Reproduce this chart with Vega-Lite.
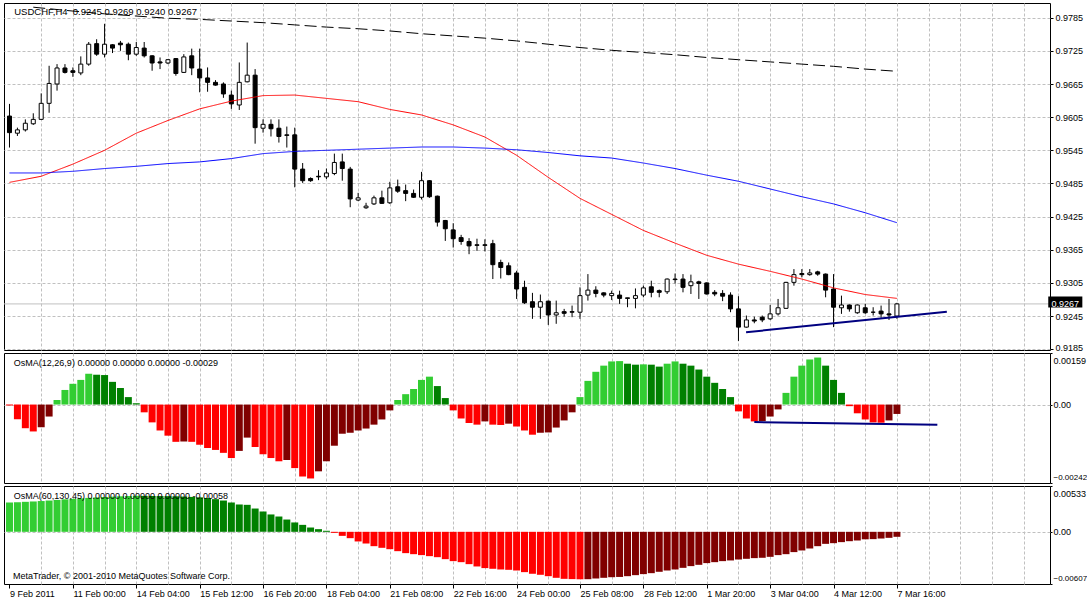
{
"$schema": "https://vega.github.io/schema/vega-lite/v6.json",
"background": "white",
"padding": {"left": 3, "top": 2, "right": 0, "bottom": 0},
"spacing": 3,
"bounds": "flush",
"config": {
  "view": {"stroke": "black", "strokeWidth": 1},
  "axis": {"labelFont": "Liberation Sans", "labelFontSize": 9, "labelColor": "black", "gridColor": "#c0c0c0", "gridDash": [3, 2], "domain": false, "tickColor": "black", "labelOverlap": false},
  "text": {"font": "Liberation Sans", "fontSize": 9}
},
"datasets": {
  "candles": [
    {"i":0,"o":0.9607,"h":0.9629,"l":0.9550,"c":0.9577},
    {"i":1,"o":0.9576,"h":0.9586,"l":0.9571,"c":0.9582},
    {"i":2,"o":0.9582,"h":0.9601,"l":0.9579,"c":0.9594},
    {"i":3,"o":0.9593,"h":0.9612,"l":0.9591,"c":0.9601},
    {"i":4,"o":0.9601,"h":0.9648,"l":0.9600,"c":0.9630},
    {"i":5,"o":0.9630,"h":0.9698,"l":0.9613,"c":0.9666},
    {"i":6,"o":0.9665,"h":0.9701,"l":0.9653,"c":0.9694},
    {"i":7,"o":0.9694,"h":0.9701,"l":0.9684,"c":0.9686},
    {"i":8,"o":0.9689,"h":0.9695,"l":0.9678,"c":0.9686},
    {"i":9,"o":0.9685,"h":0.9715,"l":0.9681,"c":0.9701},
    {"i":10,"o":0.9701,"h":0.9741,"l":0.9698,"c":0.9737},
    {"i":11,"o":0.9738,"h":0.9746,"l":0.9716,"c":0.9719},
    {"i":12,"o":0.9719,"h":0.9774,"l":0.9713,"c":0.9737},
    {"i":13,"o":0.9736,"h":0.9737,"l":0.9721,"c":0.9730},
    {"i":14,"o":0.9739,"h":0.9743,"l":0.9725,"c":0.9736},
    {"i":15,"o":0.9737,"h":0.9740,"l":0.9708,"c":0.9719},
    {"i":16,"o":0.9719,"h":0.9741,"l":0.9716,"c":0.9731},
    {"i":17,"o":0.9730,"h":0.9741,"l":0.9713,"c":0.9716},
    {"i":18,"o":0.9716,"h":0.9717,"l":0.9689,"c":0.9703},
    {"i":19,"o":0.9705,"h":0.9713,"l":0.9692,"c":0.9703},
    {"i":20,"o":0.9703,"h":0.9710,"l":0.9701,"c":0.9709},
    {"i":21,"o":0.9711,"h":0.9712,"l":0.9680,"c":0.9684},
    {"i":22,"o":0.9686,"h":0.9719,"l":0.9685,"c":0.9714},
    {"i":23,"o":0.9716,"h":0.9729,"l":0.9681,"c":0.9694},
    {"i":24,"o":0.9692,"h":0.9729,"l":0.9650,"c":0.9676},
    {"i":25,"o":0.9676,"h":0.9695,"l":0.9651,"c":0.9668},
    {"i":26,"o":0.9668,"h":0.9672,"l":0.9662,"c":0.9663},
    {"i":27,"o":0.9665,"h":0.9668,"l":0.9640,"c":0.9647},
    {"i":28,"o":0.9645,"h":0.9653,"l":0.9620,"c":0.9629},
    {"i":29,"o":0.9627,"h":0.9704,"l":0.9618,"c":0.9668},
    {"i":30,"o":0.9669,"h":0.9740,"l":0.9668,"c":0.9681},
    {"i":31,"o":0.9681,"h":0.9692,"l":0.9557,"c":0.9586},
    {"i":32,"o":0.9585,"h":0.9601,"l":0.9577,"c":0.9592},
    {"i":33,"o":0.9592,"h":0.9601,"l":0.9570,"c":0.9584},
    {"i":34,"o":0.9585,"h":0.9601,"l":0.9559,"c":0.9570},
    {"i":35,"o":0.9573,"h":0.9588,"l":0.9550,"c":0.9572},
    {"i":36,"o":0.9573,"h":0.9586,"l":0.9478,"c":0.9511},
    {"i":37,"o":0.9511,"h":0.9522,"l":0.9486,"c":0.9490},
    {"i":38,"o":0.9494,"h":0.9496,"l":0.9488,"c":0.9490},
    {"i":39,"o":0.9498,"h":0.9509,"l":0.9491,"c":0.9497},
    {"i":40,"o":0.9497,"h":0.9512,"l":0.9493,"c":0.9504},
    {"i":41,"o":0.9503,"h":0.9539,"l":0.9500,"c":0.9523},
    {"i":42,"o":0.9524,"h":0.9539,"l":0.9490,"c":0.9512},
    {"i":43,"o":0.9511,"h":0.9515,"l":0.9442,"c":0.9457},
    {"i":44,"o":0.9455,"h":0.9468,"l":0.9453,"c":0.9459},
    {"i":45,"o":0.9441,"h":0.9450,"l":0.9439,"c":0.9444},
    {"i":46,"o":0.9448,"h":0.9463,"l":0.9446,"c":0.9459},
    {"i":47,"o":0.9459,"h":0.9472,"l":0.9448,"c":0.9449},
    {"i":48,"o":0.9450,"h":0.9488,"l":0.9448,"c":0.9477},
    {"i":49,"o":0.9479,"h":0.9492,"l":0.9468,"c":0.9471},
    {"i":50,"o":0.9472,"h":0.9483,"l":0.9453,"c":0.9467},
    {"i":51,"o":0.9467,"h":0.9474,"l":0.9459,"c":0.9460},
    {"i":52,"o":0.9460,"h":0.9506,"l":0.9456,"c":0.9490},
    {"i":53,"o":0.9490,"h":0.9491,"l":0.9459,"c":0.9461},
    {"i":54,"o":0.9462,"h":0.9463,"l":0.9407,"c":0.9415},
    {"i":55,"o":0.9418,"h":0.9419,"l":0.9381,"c":0.9403},
    {"i":56,"o":0.9401,"h":0.9413,"l":0.9369,"c":0.9385},
    {"i":57,"o":0.9387,"h":0.9392,"l":0.9374,"c":0.9380},
    {"i":58,"o":0.9380,"h":0.9386,"l":0.9357,"c":0.9372},
    {"i":59,"o":0.9374,"h":0.9385,"l":0.9363,"c":0.9373},
    {"i":60,"o":0.9374,"h":0.9384,"l":0.9362,"c":0.9373},
    {"i":61,"o":0.9376,"h":0.9383,"l":0.9312,"c":0.9338},
    {"i":62,"o":0.9342,"h":0.9347,"l":0.9313,"c":0.9333},
    {"i":63,"o":0.9336,"h":0.9342,"l":0.9319,"c":0.9320},
    {"i":64,"o":0.9323,"h":0.9327,"l":0.9276,"c":0.9294},
    {"i":65,"o":0.9297,"h":0.9309,"l":0.9267,"c":0.9269},
    {"i":66,"o":0.9271,"h":0.9287,"l":0.9240,"c":0.9261},
    {"i":67,"o":0.9261,"h":0.9284,"l":0.9240,"c":0.9271},
    {"i":68,"o":0.9272,"h":0.9273,"l":0.9229,"c":0.9247},
    {"i":69,"o":0.9247,"h":0.9273,"l":0.9231,"c":0.9251},
    {"i":70,"o":0.9253,"h":0.9258,"l":0.9244,"c":0.9250},
    {"i":71,"o":0.9253,"h":0.9264,"l":0.9243,"c":0.9252},
    {"i":72,"o":0.9252,"h":0.9297,"l":0.9240,"c":0.9282},
    {"i":73,"o":0.9283,"h":0.9321,"l":0.9273,"c":0.9292},
    {"i":74,"o":0.9292,"h":0.9299,"l":0.9279,"c":0.9286},
    {"i":75,"o":0.9287,"h":0.9288,"l":0.9279,"c":0.9283},
    {"i":76,"o":0.9282,"h":0.9291,"l":0.9274,"c":0.9286},
    {"i":77,"o":0.9283,"h":0.9291,"l":0.9267,"c":0.9277},
    {"i":78,"o":0.9278,"h":0.9278,"l":0.9261,"c":0.9277},
    {"i":79,"o":0.9277,"h":0.9295,"l":0.9259,"c":0.9282},
    {"i":80,"o":0.9283,"h":0.9300,"l":0.9279,"c":0.9296},
    {"i":81,"o":0.9298,"h":0.9309,"l":0.9279,"c":0.9288},
    {"i":82,"o":0.9291,"h":0.9293,"l":0.9279,"c":0.9288},
    {"i":83,"o":0.9289,"h":0.9313,"l":0.9285,"c":0.9312},
    {"i":84,"o":0.9312,"h":0.9322,"l":0.9304,"c":0.9311},
    {"i":85,"o":0.9312,"h":0.9321,"l":0.9288,"c":0.9297},
    {"i":86,"o":0.9300,"h":0.9320,"l":0.9285,"c":0.9307},
    {"i":87,"o":0.9307,"h":0.9309,"l":0.9276,"c":0.9304},
    {"i":88,"o":0.9305,"h":0.9306,"l":0.9284,"c":0.9285},
    {"i":89,"o":0.9288,"h":0.9292,"l":0.9281,"c":0.9285},
    {"i":90,"o":0.9286,"h":0.9292,"l":0.9272,"c":0.9281},
    {"i":91,"o":0.9283,"h":0.9288,"l":0.9252,"c":0.9258},
    {"i":92,"o":0.9258,"h":0.9281,"l":0.9200,"c":0.9225},
    {"i":93,"o":0.9225,"h":0.9246,"l":0.9224,"c":0.9238},
    {"i":94,"o":0.9238,"h":0.9244,"l":0.9232,"c":0.9236},
    {"i":95,"o":0.9243,"h":0.9246,"l":0.9234,"c":0.9238},
    {"i":96,"o":0.9240,"h":0.9265,"l":0.9238,"c":0.9249},
    {"i":97,"o":0.9249,"h":0.9276,"l":0.9246,"c":0.9260},
    {"i":98,"o":0.9259,"h":0.9307,"l":0.9258,"c":0.9306},
    {"i":99,"o":0.9306,"h":0.9330,"l":0.9300,"c":0.9320},
    {"i":100,"o":0.9322,"h":0.9330,"l":0.9315,"c":0.9320},
    {"i":101,"o":0.9320,"h":0.9330,"l":0.9318,"c":0.9323},
    {"i":102,"o":0.9325,"h":0.9327,"l":0.9318,"c":0.9321},
    {"i":103,"o":0.9321,"h":0.9322,"l":0.9279,"c":0.9292},
    {"i":104,"o":0.9294,"h":0.9321,"l":0.9225,"c":0.9261},
    {"i":105,"o":0.9260,"h":0.9282,"l":0.9249,"c":0.9265},
    {"i":106,"o":0.9265,"h":0.9266,"l":0.9253,"c":0.9258},
    {"i":107,"o":0.9251,"h":0.9266,"l":0.9249,"c":0.9265},
    {"i":108,"o":0.9260,"h":0.9267,"l":0.9249,"c":0.9251},
    {"i":109,"o":0.9252,"h":0.9261,"l":0.9246,"c":0.9252},
    {"i":110,"o":0.9254,"h":0.9264,"l":0.9242,"c":0.9249},
    {"i":111,"o":0.9249,"h":0.9276,"l":0.9238,"c":0.9247},
    {"i":112,"o":0.9245,"h":0.9269,"l":0.9240,"c":0.9267}
  ],
  "ma": [
    {"m":"k","i":3,"v":0.9804},{"m":"k","i":8,"v":0.9797},{"m":"k","i":12,"v":0.9792},{"m":"k","i":16,"v":0.9788},{"m":"k","i":20,"v":0.9784},{"m":"k","i":24,"v":0.9782},{"m":"k","i":28,"v":0.9779},{"m":"k","i":32,"v":0.9776},{"m":"k","i":36,"v":0.9772},{"m":"k","i":40,"v":0.9768},{"m":"k","i":44,"v":0.9765},{"m":"k","i":48,"v":0.9761},{"m":"k","i":52,"v":0.9756},{"m":"k","i":56,"v":0.9752},{"m":"k","i":60,"v":0.9748},{"m":"k","i":64,"v":0.9743},{"m":"k","i":68,"v":0.9737},{"m":"k","i":72,"v":0.9731},{"m":"k","i":76,"v":0.9726},{"m":"k","i":80,"v":0.9722},{"m":"k","i":84,"v":0.9718},{"m":"k","i":88,"v":0.9713},{"m":"k","i":92,"v":0.9709},{"m":"k","i":96,"v":0.9705},{"m":"k","i":100,"v":0.9701},{"m":"k","i":104,"v":0.9697},{"m":"k","i":108,"v":0.9692},{"m":"k","i":112,"v":0.9688},
    {"m":"r","i":0,"v":0.9487},{"m":"r","i":4,"v":0.9498},{"m":"r","i":8,"v":0.9520},{"m":"r","i":12,"v":0.9545},{"m":"r","i":16,"v":0.9576},{"m":"r","i":20,"v":0.9599},{"m":"r","i":24,"v":0.9620},{"m":"r","i":28,"v":0.9634},{"m":"r","i":32,"v":0.9644},{"m":"r","i":36,"v":0.9645},{"m":"r","i":40,"v":0.9639},{"m":"r","i":44,"v":0.9633},{"m":"r","i":48,"v":0.9619},{"m":"r","i":52,"v":0.9609},{"m":"r","i":56,"v":0.9591},{"m":"r","i":60,"v":0.9569},{"m":"r","i":64,"v":0.9536},{"m":"r","i":68,"v":0.9496},{"m":"r","i":72,"v":0.9458},{"m":"r","i":76,"v":0.9429},{"m":"r","i":80,"v":0.9400},{"m":"r","i":84,"v":0.9377},{"m":"r","i":88,"v":0.9355},{"m":"r","i":92,"v":0.9339},{"m":"r","i":96,"v":0.9326},{"m":"r","i":100,"v":0.9312},{"m":"r","i":104,"v":0.9296},{"m":"r","i":108,"v":0.9284},{"m":"r","i":112,"v":0.9277},
    {"m":"b","i":0,"v":0.9504},{"m":"b","i":4,"v":0.9504},{"m":"b","i":8,"v":0.9507},{"m":"b","i":12,"v":0.9512},{"m":"b","i":16,"v":0.9516},{"m":"b","i":20,"v":0.9521},{"m":"b","i":24,"v":0.9524},{"m":"b","i":28,"v":0.9530},{"m":"b","i":32,"v":0.9539},{"m":"b","i":36,"v":0.9543},{"m":"b","i":40,"v":0.9545},{"m":"b","i":44,"v":0.9547},{"m":"b","i":48,"v":0.9549},{"m":"b","i":52,"v":0.9551},{"m":"b","i":56,"v":0.9551},{"m":"b","i":60,"v":0.9549},{"m":"b","i":64,"v":0.9546},{"m":"b","i":68,"v":0.9541},{"m":"b","i":72,"v":0.9535},{"m":"b","i":76,"v":0.9531},{"m":"b","i":80,"v":0.9522},{"m":"b","i":84,"v":0.9512},{"m":"b","i":88,"v":0.9500},{"m":"b","i":92,"v":0.9489},{"m":"b","i":96,"v":0.9475},{"m":"b","i":100,"v":0.9461},{"m":"b","i":104,"v":0.9448},{"m":"b","i":108,"v":0.9432},{"m":"b","i":112,"v":0.9414}
  ],
  "trend": [
    {"p":"a","i":92.96,"v":0.92158},{"p":"a","i":118.3,"v":0.92527},
    {"p":"b","i":94,"v":-0.00054},{"p":"b","i":117.1,"v":-0.00062}
  ],
  "last": [{"p":0.9267,"t":"0.9267"}],
  "notes": [
    {"p":"a","t":"USDCHF,H4\u00a0 0.9245 0.9269 0.9240 0.9267"},
    {"p":"b","t":"OsMA(12,26,9) 0.00000 0.00000 0.00000 -0.00029"},
    {"p":"c","t":"OsMA(60,130,45) 0.00000 0.00000 0.00000 -0.00058"},
    {"p":"d","t":"MetaTrader, © 2001-2010 MetaQuotes Software Corp."}
  ],
  "osma1": [
    {"i":0,"v":-0.00003,"s":"r"},{"i":1,"v":-0.00045,"s":"r"},{"i":2,"v":-0.00073,"s":"r"},{"i":3,"v":-0.00083,"s":"r"},{"i":4,"v":-0.0007,"s":"R"},{"i":5,"v":-0.00037,"s":"R"},
    {"i":6,"v":0.00014,"s":"g"},{"i":7,"v":0.00045,"s":"g"},{"i":8,"v":0.00064,"s":"g"},{"i":9,"v":0.00076,"s":"g"},{"i":10,"v":0.00095,"s":"g"},
    {"i":11,"v":0.00092,"s":"G"},{"i":12,"v":0.00091,"s":"G"},{"i":13,"v":0.0007,"s":"G"},{"i":14,"v":0.00051,"s":"G"},{"i":15,"v":0.00023,"s":"G"},{"i":16,"v":0.00004,"s":"G"},
    {"i":17,"v":-0.00024,"s":"r"},{"i":18,"v":-0.00055,"s":"r"},{"i":19,"v":-0.0008,"s":"r"},{"i":20,"v":-0.00096,"s":"r"},{"i":21,"v":-0.00115,"s":"r"},{"i":22,"v":-0.00114,"s":"R"},
    {"i":23,"v":-0.00115,"s":"r"},{"i":24,"v":-0.00124,"s":"r"},{"i":25,"v":-0.00134,"s":"r"},{"i":26,"v":-0.0014,"s":"r"},{"i":27,"v":-0.00149,"s":"r"},{"i":28,"v":-0.00165,"s":"r"},
    {"i":29,"v":-0.00143,"s":"R"},{"i":30,"v":-0.00102,"s":"R"},{"i":31,"v":-0.00131,"s":"r"},{"i":32,"v":-0.00153,"s":"r"},{"i":33,"v":-0.00165,"s":"r"},{"i":34,"v":-0.00175,"s":"r"},
    {"i":35,"v":-0.00171,"s":"R"},{"i":36,"v":-0.00196,"s":"r"},{"i":37,"v":-0.00222,"s":"r"},{"i":38,"v":-0.00228,"s":"r"},
    {"i":39,"v":-0.00206,"s":"R"},{"i":40,"v":-0.00175,"s":"R"},{"i":41,"v":-0.00127,"s":"R"},{"i":42,"v":-0.0009,"s":"R"},{"i":43,"v":-0.00087,"s":"R"},{"i":44,"v":-0.0008,"s":"R"},{"i":45,"v":-0.00074,"s":"R"},{"i":46,"v":-0.00062,"s":"R"},{"i":47,"v":-0.00046,"s":"R"},{"i":48,"v":-0.00018,"s":"R"},
    {"i":49,"v":0.00014,"s":"g"},{"i":50,"v":0.00032,"s":"g"},{"i":51,"v":0.00048,"s":"g"},{"i":52,"v":0.00076,"s":"g"},{"i":53,"v":0.00086,"s":"g"},{"i":54,"v":0.00057,"s":"G"},{"i":55,"v":0.0002,"s":"G"},
    {"i":56,"v":-0.00018,"s":"r"},{"i":57,"v":-0.00043,"s":"r"},{"i":58,"v":-0.00057,"s":"r"},{"i":59,"v":-0.00062,"s":"r"},{"i":60,"v":-0.00052,"s":"R"},{"i":61,"v":-0.00062,"s":"r"},{"i":62,"v":-0.00063,"s":"r"},{"i":63,"v":-0.00059,"s":"R"},
    {"i":64,"v":-0.00068,"s":"r"},{"i":65,"v":-0.0008,"s":"r"},{"i":66,"v":-0.00093,"s":"r"},{"i":67,"v":-0.00087,"s":"R"},{"i":68,"v":-0.00086,"s":"R"},{"i":69,"v":-0.00071,"s":"R"},{"i":70,"v":-0.00049,"s":"R"},{"i":71,"v":-0.00024,"s":"R"},
    {"i":72,"v":0.00023,"s":"g"},{"i":73,"v":0.00073,"s":"g"},{"i":74,"v":0.00101,"s":"g"},{"i":75,"v":0.0012,"s":"g"},{"i":76,"v":0.00133,"s":"g"},{"i":77,"v":0.00134,"s":"g"},{"i":78,"v":0.00126,"s":"G"},{"i":79,"v":0.00123,"s":"G"},{"i":80,"v":0.00124,"s":"g"},{"i":81,"v":0.00123,"s":"G"},{"i":82,"v":0.00117,"s":"G"},{"i":83,"v":0.00126,"s":"g"},{"i":84,"v":0.00133,"s":"g"},
    {"i":85,"v":0.00126,"s":"G"},{"i":86,"v":0.0012,"s":"G"},{"i":87,"v":0.00108,"s":"G"},{"i":88,"v":0.00086,"s":"G"},{"i":89,"v":0.00067,"s":"G"},{"i":90,"v":0.00048,"s":"G"},{"i":91,"v":0.00023,"s":"G"},
    {"i":92,"v":-0.00021,"s":"r"},{"i":93,"v":-0.00043,"s":"r"},{"i":94,"v":-0.00052,"s":"r"},{"i":95,"v":-0.00051,"s":"R"},{"i":96,"v":-0.00037,"s":"R"},{"i":97,"v":-0.00015,"s":"R"},
    {"i":98,"v":0.00036,"s":"g"},{"i":99,"v":0.00086,"s":"g"},{"i":100,"v":0.0012,"s":"g"},{"i":101,"v":0.00139,"s":"g"},{"i":102,"v":0.00145,"s":"g"},{"i":103,"v":0.0012,"s":"G"},{"i":104,"v":0.00076,"s":"G"},{"i":105,"v":0.00036,"s":"G"},
    {"i":106,"v":-0.00005,"s":"r"},{"i":107,"v":-0.00027,"s":"r"},{"i":108,"v":-0.00046,"s":"r"},{"i":109,"v":-0.00055,"s":"r"},{"i":110,"v":-0.00056,"s":"r"},{"i":111,"v":-0.00049,"s":"R"},{"i":112,"v":-0.00029,"s":"R"}
  ],
  "osma2": [
    {"i":0,"v":0.00341,"s":"g"},{"i":1,"v":0.00345,"s":"g"},{"i":2,"v":0.00349,"s":"g"},{"i":3,"v":0.00353,"s":"g"},{"i":4,"v":0.00358,"s":"g"},{"i":5,"v":0.00364,"s":"g"},{"i":6,"v":0.00371,"s":"g"},{"i":7,"v":0.00378,"s":"g"},{"i":8,"v":0.00384,"s":"g"},{"i":9,"v":0.0039,"s":"g"},{"i":10,"v":0.00395,"s":"g"},{"i":11,"v":0.004,"s":"g"},{"i":12,"v":0.00405,"s":"g"},{"i":13,"v":0.00409,"s":"g"},{"i":14,"v":0.00413,"s":"g"},{"i":15,"v":0.00416,"s":"g"},{"i":16,"v":0.00419,"s":"g"},
    {"i":17,"v":0.00418,"s":"G"},{"i":18,"v":0.00417,"s":"G"},{"i":19,"v":0.00416,"s":"G"},{"i":20,"v":0.00415,"s":"G"},{"i":21,"v":0.00413,"s":"G"},{"i":22,"v":0.0041,"s":"G"},{"i":23,"v":0.00406,"s":"G"},{"i":24,"v":0.00401,"s":"G"},{"i":25,"v":0.00394,"s":"G"},{"i":26,"v":0.0038,"s":"G"},{"i":27,"v":0.00364,"s":"G"},{"i":28,"v":0.00341,"s":"G"},{"i":29,"v":0.00318,"s":"G"},{"i":30,"v":0.00314,"s":"G"},{"i":31,"v":0.00271,"s":"G"},{"i":32,"v":0.00236,"s":"G"},{"i":33,"v":0.00202,"s":"G"},{"i":34,"v":0.00178,"s":"G"},{"i":35,"v":0.00143,"s":"G"},{"i":36,"v":0.00109,"s":"G"},{"i":37,"v":0.00081,"s":"G"},{"i":38,"v":0.0005,"s":"G"},{"i":39,"v":0.00031,"s":"G"},{"i":40,"v":0.00012,"s":"G"},
    {"i":41,"v":-0.00012,"s":"r"},{"i":42,"v":-0.00047,"s":"r"},{"i":43,"v":-0.00074,"s":"r"},{"i":44,"v":-0.00112,"s":"r"},{"i":45,"v":-0.00136,"s":"r"},{"i":46,"v":-0.00167,"s":"r"},{"i":47,"v":-0.00186,"s":"r"},{"i":48,"v":-0.00202,"s":"r"},{"i":49,"v":-0.00225,"s":"r"},{"i":50,"v":-0.00248,"s":"r"},{"i":51,"v":-0.0026,"s":"r"},{"i":52,"v":-0.00271,"s":"r"},{"i":53,"v":-0.00283,"s":"r"},{"i":54,"v":-0.00295,"s":"r"},{"i":55,"v":-0.00318,"s":"r"},{"i":56,"v":-0.00341,"s":"r"},{"i":57,"v":-0.00353,"s":"r"},{"i":58,"v":-0.00376,"s":"r"},{"i":59,"v":-0.00403,"s":"r"},{"i":60,"v":-0.00422,"s":"r"},{"i":61,"v":-0.0043,"s":"r"},{"i":62,"v":-0.00438,"s":"r"},{"i":63,"v":-0.00442,"s":"r"},{"i":64,"v":-0.0045,"s":"r"},{"i":65,"v":-0.00469,"s":"r"},{"i":66,"v":-0.00488,"s":"r"},{"i":67,"v":-0.005,"s":"r"},{"i":68,"v":-0.00516,"s":"r"},{"i":69,"v":-0.00535,"s":"r"},{"i":70,"v":-0.00547,"s":"r"},{"i":71,"v":-0.0055,"s":"r"},{"i":72,"v":-0.00552,"s":"r"},
    {"i":73,"v":-0.00551,"s":"R"},{"i":74,"v":-0.00543,"s":"R"},{"i":75,"v":-0.00535,"s":"R"},{"i":76,"v":-0.00528,"s":"R"},{"i":77,"v":-0.00525,"s":"R"},{"i":78,"v":-0.00516,"s":"R"},{"i":79,"v":-0.00504,"s":"R"},{"i":80,"v":-0.00492,"s":"R"},{"i":81,"v":-0.00481,"s":"R"},{"i":82,"v":-0.00465,"s":"R"},{"i":83,"v":-0.0045,"s":"R"},{"i":84,"v":-0.00438,"s":"R"},{"i":85,"v":-0.00419,"s":"R"},{"i":86,"v":-0.00399,"s":"R"},{"i":87,"v":-0.00384,"s":"R"},{"i":88,"v":-0.00364,"s":"R"},{"i":89,"v":-0.00353,"s":"R"},{"i":90,"v":-0.00341,"s":"R"},{"i":91,"v":-0.00333,"s":"R"},{"i":92,"v":-0.00322,"s":"R"},{"i":93,"v":-0.00314,"s":"R"},{"i":94,"v":-0.00306,"s":"R"},{"i":95,"v":-0.00302,"s":"R"},{"i":96,"v":-0.00291,"s":"R"},{"i":97,"v":-0.00271,"s":"R"},{"i":98,"v":-0.0026,"s":"R"},{"i":99,"v":-0.00236,"s":"R"},{"i":100,"v":-0.00217,"s":"R"},{"i":101,"v":-0.00194,"s":"R"},{"i":102,"v":-0.00167,"s":"R"},{"i":103,"v":-0.0014,"s":"R"},{"i":104,"v":-0.00132,"s":"R"},{"i":105,"v":-0.0012,"s":"R"},{"i":106,"v":-0.00109,"s":"R"},{"i":107,"v":-0.00101,"s":"R"},{"i":108,"v":-0.00087,"s":"R"},{"i":109,"v":-0.00085,"s":"R"},{"i":110,"v":-0.00078,"s":"R"},{"i":111,"v":-0.0007,"s":"R"},{"i":112,"v":-0.00058,"s":"R"}
  ]
},
"vconcat": [
  {
    "width": 1046, "height": 347,
    "layer": [
      {"data": {"name": "last"}, "mark": {"type": "rule", "color": "#c0c0c0", "strokeWidth": 1},
       "encoding": {"y": {"field": "p", "type": "quantitative", "title": null}}},
      {"data": {"name": "candles"}, "mark": {"type": "rule", "color": "black", "strokeWidth": 1, "clip": true},
       "encoding": {
         "x": {"field": "i", "type": "quantitative", "title": null, "scale": {"domain": [-0.0625, 130.6875], "nice": false, "zero": false},
               "axis": {"values": [4,8,12,16,20,24,28,32,36,40,44,48,52,56,60,64,68,72,76,80,84,88,92,96,100,104,108,112,116,120,124,128], "tickCount": 200, "labels": false, "ticks": false, "grid": true, "orient": "bottom"}},
         "y": {"field": "l", "type": "quantitative", "title": null, "scale": {"domain": [0.91836, 0.98116], "nice": false, "zero": false},
               "axis": {"orient": "right", "values": [0.9185,0.9245,0.9305,0.9365,0.9425,0.9485,0.9545,0.9605,0.9665,0.9725,0.9785], "tickCount": 200, "format": ".4f", "tickSize": 3, "labelPadding": 2, "grid": true, "labelOverlap": false, "labelBound": false,
                        "labelOffset": {"condition": {"test": "datum.value < 0.919", "value": -2}, "value": 0}}},
         "y2": {"field": "h"}
       }},
      {"data": {"name": "candles"}, "mark": {"type": "bar", "orient": "vertical", "size": 4, "stroke": "black", "strokeWidth": 1, "clip": true},
       "encoding": {
         "x": {"field": "i", "type": "quantitative", "title": null},
         "y": {"field": "o", "type": "quantitative", "title": null},
         "y2": {"field": "c"},
         "fill": {"condition": {"test": "datum.c >= datum.o", "value": "white"}, "value": "black"}
       }},
      {"data": {"name": "ma"}, "mark": {"type": "line", "strokeWidth": 1, "clip": true},
       "encoding": {
         "x": {"field": "i", "type": "quantitative", "title": null},
         "y": {"field": "v", "type": "quantitative", "title": null},
         "stroke": {"field": "m", "type": "nominal", "scale": {"domain": ["k","r","b"], "range": ["#000000","#ff0000","#0000ff"]}, "legend": null},
         "strokeDash": {"field": "m", "type": "nominal", "scale": {"domain": ["k","r","b"], "range": [[12,5],[1,0],[1,0]]}, "legend": null}
       }},
      {"data": {"name": "trend"}, "transform": [{"filter": "datum.p == 'a'"}], "mark": {"type": "line", "color": "#000080", "strokeWidth": 2, "clip": true},
       "encoding": {"x": {"field": "i", "type": "quantitative", "title": null}, "y": {"field": "v", "type": "quantitative", "title": null}}},
      {"data": {"name": "notes"}, "transform": [{"filter": "datum.p == 'a'"}], "mark": {"type": "text", "align": "left", "baseline": "middle", "fontSize": 9.5, "color": "black"},
       "encoding": {"x": {"datum": 0.6, "type": "quantitative"}, "y": {"datum": 0.97958, "type": "quantitative"}, "text": {"field": "t"}}},
      {"data": {"name": "last"}, "mark": {"type": "rect", "color": "black"},
       "encoding": {"x": {"datum": 131.1, "type": "quantitative"}, "x2": {"datum": 135.4}, "y": {"datum": 0.92803, "type": "quantitative"}, "y2": {"datum": 0.92604}}},
      {"data": {"name": "last"}, "mark": {"type": "text", "color": "white", "align": "center", "baseline": "middle", "fontSize": 9},
       "encoding": {"x": {"datum": 133.25, "type": "quantitative"}, "y": {"field": "p", "type": "quantitative", "title": null}, "text": {"field": "t"}}}
    ]
  },
  {
    "width": 1046, "height": 130,
    "layer": [
      {"data": {"name": "osma1"}, "mark": {"type": "bar", "orient": "vertical", "size": 7, "clip": true},
       "encoding": {
         "x": {"field": "i", "type": "quantitative", "title": null, "scale": {"domain": [-0.0625, 130.6875], "nice": false, "zero": false},
               "axis": {"values": [4,8,12,16,20,24,28,32,36,40,44,48,52,56,60,64,68,72,76,80,84,88,92,96,100,104,108,112,116,120,124,128], "tickCount": 200, "labels": false, "ticks": false, "grid": true, "orient": "bottom"}},
         "y": {"field": "v", "type": "quantitative", "title": null, "scale": {"domain": [-0.00242, 0.00159], "nice": false, "zero": false},
               "axis": {"orient": "right", "values": [-0.00242, 0, 0.00159], "tickCount": 200, "labelExpr": "datum.value == 0 ? '0.00' : format(datum.value, '.5f')", "tickSize": 2, "labelPadding": 1, "grid": true, "labelOverlap": false, "labelBound": false,
                        "labelFontSize": {"condition": {"test": "datum.value < 0", "value": 8}, "value": 9},
                        "gridColor": {"condition": {"test": "datum.value == 0", "value": "#c0c0c0"}, "value": "transparent"},
                        "labelOffset": {"condition": [{"test": "datum.value > 0", "value": 7}, {"test": "datum.value < 0", "value": -6}], "value": 0}}},
         "y2": {"datum": 0},
         "color": {"field": "s", "type": "nominal", "scale": {"domain": ["g","G","r","R"], "range": ["#32cd32","#008000","#ff0000","#800000"]}, "legend": null}
       }},
      {"data": {"name": "trend"}, "transform": [{"filter": "datum.p == 'b'"}], "mark": {"type": "line", "color": "#000080", "strokeWidth": 2, "clip": true},
       "encoding": {"x": {"field": "i", "type": "quantitative", "title": null}, "y": {"field": "v", "type": "quantitative", "title": null}}},
      {"data": {"name": "notes"}, "transform": [{"filter": "datum.p == 'b'"}], "mark": {"type": "text", "align": "left", "baseline": "middle", "fontSize": 9, "color": "black"},
       "encoding": {"x": {"datum": 0.55, "type": "quantitative"}, "y": {"datum": 0.00127, "type": "quantitative"}, "text": {"field": "t"}}}
    ]
  },
  {
    "width": 1046, "height": 98,
    "layer": [
      {"data": {"name": "osma2"}, "mark": {"type": "bar", "orient": "vertical", "size": 7, "clip": true},
       "encoding": {
         "x": {"field": "i", "type": "quantitative", "title": null, "scale": {"domain": [-0.0625, 130.6875], "nice": false, "zero": false},
               "axis": {"orient": "bottom", "values": [0,4,8,12,16,20,24,28,32,36,40,44,48,52,56,60,64,68,72,76,80,84,88,92,96,100,104,108,112,116,120,124,128], "tickCount": 200,
                        "labelExpr": "(datum.value % 8 == 0 && datum.value <= 112) ? ['9 Feb 2011','11 Feb 00:00','14 Feb 04:00','15 Feb 12:00','16 Feb 20:00','18 Feb 04:00','21 Feb 08:00','22 Feb 16:00','24 Feb 00:00','25 Feb 08:00','28 Feb 12:00','1 Mar 20:00','3 Mar 04:00','4 Mar 12:00','7 Mar 16:00'][datum.value / 8] : ''",
                        "labelAlign": "left", "labelBaseline": "top", "labelPadding": 1, "tickSize": 4, "labelFlush": false, "labelBound": false, "labelOverlap": false,
                        "tickColor": {"condition": {"test": "datum.value % 8 == 0 && datum.value <= 112", "value": "black"}, "value": "transparent"},
                        "gridColor": {"condition": {"test": "datum.value == 0", "value": "transparent"}, "value": "#c0c0c0"}, "grid": true}},
         "y": {"field": "v", "type": "quantitative", "title": null, "scale": {"domain": [-0.00607, 0.00533], "nice": false, "zero": false},
               "axis": {"orient": "right", "values": [-0.00607, 0, 0.00533], "tickCount": 200, "labelExpr": "datum.value == 0 ? '0.00' : format(datum.value, '.5f')", "tickSize": 2, "labelPadding": 1, "grid": true, "labelOverlap": false, "labelBound": false,
                        "labelFontSize": {"condition": {"test": "datum.value < 0", "value": 8}, "value": 9},
                        "gridColor": {"condition": {"test": "datum.value == 0", "value": "#c0c0c0"}, "value": "transparent"},
                        "labelOffset": {"condition": [{"test": "datum.value > 0", "value": 7}, {"test": "datum.value < 0", "value": -6}], "value": 0}}},
         "y2": {"datum": 0},
         "color": {"field": "s", "type": "nominal", "scale": {"domain": ["g","G","r","R"], "range": ["#32cd32","#008000","#ff0000","#800000"]}, "legend": null}
       }},
      {"data": {"name": "notes"}, "transform": [{"filter": "datum.p == 'c'"}], "mark": {"type": "text", "align": "left", "baseline": "middle", "fontSize": 9, "color": "black"},
       "encoding": {"x": {"datum": 0.55, "type": "quantitative"}, "y": {"datum": 0.00412, "type": "quantitative"}, "text": {"field": "t"}}},
      {"data": {"name": "notes"}, "transform": [{"filter": "datum.p == 'd'"}], "mark": {"type": "text", "align": "left", "baseline": "middle", "fontSize": 9, "color": "black"},
       "encoding": {"x": {"datum": 0.45, "type": "quantitative"}, "y": {"datum": -0.0051, "type": "quantitative"}, "text": {"field": "t"}}}
    ]
  }
]
}
